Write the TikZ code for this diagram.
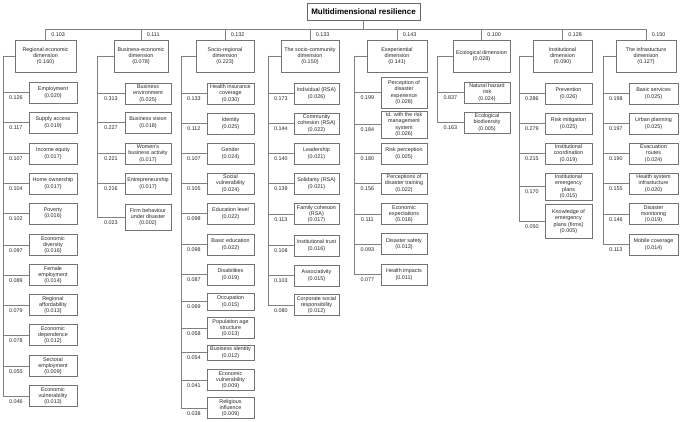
\documentclass[tikz,border=0pt]{standalone}
\usepackage{fontspec}
\setmainfont{Liberation Sans}
\begin{document}
\begin{tikzpicture}[x=1pt,y=-1pt,
  lc/.style={draw=black!50, line width=0.6pt},
  box/.style={draw=black!55, line width=0.6pt, fill=white, align=center, inner sep=1pt,
    font=\fontsize{5.4}{6.3}\selectfont, text=black!85, minimum height=21pt},
  dbox/.style={box, minimum height=32pt},
  rootbox/.style={draw=black!60, line width=0.8pt, fill=white, inner sep=1pt,
    font=\fontsize{8}{9}\selectfont\bfseries, minimum width=113pt, minimum height=17pt},
  lab/.style={font=\fontsize{5.4}{6}\selectfont, text=black!85, inner sep=0.5pt},
  w1/.style={minimum width=48pt}, w2/.style={minimum width=46pt},
  w3/.style={minimum width=47pt}, w4/.style={minimum width=45pt},
  w5/.style={minimum width=46pt}, w6/.style={minimum width=46pt},
  w7/.style={minimum width=47pt}, w8/.style={minimum width=49pt}]
\useasboundingbox (0,0) rectangle (680,422);

% root
\node[rootbox] (r) at (363.5,11.5) {Multidimensional resilience};

% dimensions
\node[dbox, minimum width=61pt] (d1) at (45.5,56) {Regional economic\\dimension\\(0.160)};
\node[dbox, minimum width=54pt] (d2) at (141,56) {Business-economic\\dimension\\(0.078)};
\node[dbox, minimum width=58pt] (d3) at (225,56) {Socio-regional\\dimension\\(0.223)};
\node[dbox, minimum width=58pt] (d4) at (310,56) {The socio-community\\dimension\\(0.150)};
\node[dbox, minimum width=60pt] (d5) at (397,56) {Exeperiential\\dimension\\(0.141)};
\node[dbox, minimum width=57pt] (d6) at (481.5,56) {Ecological dimension\\(0.028)};
\node[dbox, minimum width=59pt] (d7) at (562.5,56) {Institutional\\dimension\\(0.090)};
\node[dbox, minimum width=60pt] (d8) at (646,56) {The infrastucture\\dimension\\(0.127)};

\draw[lc] (r.south) -- ++(0,9) -| (d1.north) node[lab, pos=0.75, right=5pt] {0.103};
\draw[lc] (r.south) -- ++(0,9) -| (d2.north) node[lab, pos=0.75, right=5pt] {0.111};
\draw[lc] (r.south) -- ++(0,9) -| (d3.north) node[lab, pos=0.75, right=5pt] {0.132};
\draw[lc] (r.south) -- ++(0,9) -| (d4.north) node[lab, pos=0.75, right=5pt] {0.133};
\draw[lc] (r.south) -- ++(0,9) -| (d5.north) node[lab, pos=0.75, right=5pt] {0.143};
\draw[lc] (r.south) -- ++(0,9) -| (d6.north) node[lab, pos=0.75, right=5pt] {0.100};
\draw[lc] (r.south) -- ++(0,9) -| (d7.north) node[lab, pos=0.75, right=5pt] {0.128};
\draw[lc] (r.south) -- ++(0,9) -| (d8.north) node[lab, pos=0.75, right=5pt] {0.150};

% ---------- dimension 1
\coordinate (t1) at (3,56);
\draw[lc] (d1.west) -- (t1);
\node[box,w1] (a1) at (53,92.5) {Employment\\(0.020)};
\node[box,w1] (a2) at (53,122.5) {Supply access\\(0.019)};
\node[box,w1] (a3) at (53,153.5) {Income equity\\(0.017)};
\node[box,w1] (a4) at (53,183.5) {Home ownership\\(0.017)};
\node[box,w1] (a5) at (53,213.5) {Poverty\\(0.016)};
\node[box,w1] (a6) at (53,245) {Economic\\diversity\\(0.016)};
\node[box,w1] (a7) at (53,275) {Female\\employment\\(0.014)};
\node[box,w1] (a8) at (53,305) {Regional\\affordability\\(0.013)};
\node[box,w1] (a9) at (53,335) {Economic\\dependence\\(0.012)};
\node[box,w1] (a10) at (53,366) {Sectoral\\employment\\(0.009)};
\node[box,w1] (a11) at (53,396) {Economic\\vulnerability\\(0.013)};
\foreach \n/\v in {a1/0.126,a2/0.117,a3/0.107,a4/0.104,a5/0.102,a6/0.097,a7/0.089,a8/0.079,a9/0.078,a10/0.055,a11/0.046}
  \draw[lc] (t1) |- (\n.west) node[lab, pos=0.75, below=2.5pt] {\v};

% ---------- dimension 2
\coordinate (t2) at (97,56);
\draw[lc] (d2.west) -- (t2);
\node[box,w2] (b1) at (148,93.5) {Business\\environment\\(0.025)};
\node[box,w2] (b2) at (148,122.5) {Business vision\\(0.018)};
\node[box,w2] (b3) at (148,153.5) {Women's\\business activity\\(0.017)};
\node[box,w2] (b4) at (148,183.5) {Entrepreneurship\\(0.017)};
\node[box,w2, minimum height=26pt] (b5) at (148,217) {Firm behaviour\\under disaster\\(0.002)};
\foreach \n/\v in {b1/0.313,b2/0.227,b3/0.221,b4/0.216,b5/0.023}
  \draw[lc] (t2) |- (\n.west) node[lab, pos=0.75, below=2.5pt] {\v};

% ---------- dimension 3
\coordinate (t3) at (181,56);
\draw[lc] (d3.west) -- (t3);
\node[box,w3] (c1) at (230.5,93.5) {Health insurance\\coverage\\(0.030)};
\node[box,w3] (c2) at (230.5,123.5) {Identity\\(0.025)};
\node[box,w3] (c3) at (230.5,153.5) {Gender\\(0.024)};
\node[box,w3] (c4) at (230.5,183.5) {Social\\vulnerability\\(0.024)};
\node[box,w3] (c5) at (230.5,213.5) {Education level\\(0.022)};
\node[box,w3] (c6) at (230.5,244.5) {Basic education\\(0.022)};
\node[box,w3] (c7) at (230.5,274.5) {Disabilities\\(0.019)};
\node[box,w3, minimum height=17pt] (c8) at (230.5,301.5) {Occupation\\(0.015)};
\node[box,w3] (c9) at (230.5,328) {Population age\\structure\\(0.013)};
\node[box,w3, minimum height=15pt] (c10) at (230.5,352.5) {Business identity\\(0.012)};
\node[box,w3] (c11) at (230.5,380) {Economic\\vulnerability\\(0.009)};
\node[box,w3] (c12) at (230.5,408) {Religious\\influence\\(0.009)};
\foreach \n/\v in {c1/0.133,c2/0.112,c3/0.107,c4/0.105,c5/0.098,c6/0.098,c7/0.087,c8/0.069,c9/0.058,c10/0.054,c11/0.041,c12/0.038}
  \draw[lc] (t3) |- (\n.west) node[lab, pos=0.75, below=2.5pt] {\v};

% ---------- dimension 4
\coordinate (t4) at (268,56);
\draw[lc] (d4.west) -- (t4);
\node[box,w4] (e1) at (316.5,93.5) {Individual (RSA)\\(0.026)};
\node[box,w4] (e2) at (316.5,123.5) {Community\\cohesion (RSA)\\(0.022)};
\node[box,w4] (e3) at (316.5,153.5) {Leadership\\(0.021)};
\node[box,w4] (e4) at (316.5,183.5) {Solidarity (RSA)\\(0.021)};
\node[box,w4] (e5) at (316.5,214) {Family cohesion\\(RSA)\\(0.017)};
\node[box,w4] (e6) at (316.5,245.5) {Institutional trust\\(0.016)};
\node[box,w4] (e7) at (316.5,275.5) {Associativity\\(0.015)};
\node[box,w4] (e8) at (316.5,305) {Corporate social\\responsibility\\(0.012)};
\foreach \n/\v in {e1/0.173,e2/0.144,e3/0.140,e4/0.139,e5/0.113,e6/0.108,e7/0.103,e8/0.080}
  \draw[lc] (t4) |- (\n.west) node[lab, pos=0.75, below=2.5pt] {\v};

% ---------- dimension 5
\coordinate (t5) at (354,56);
\draw[lc] (d5.west) -- (t5);
\node[box,w5, minimum height=31pt] (f1) at (404,92.5) {Perception of\\disaster\\experience\\(0.028)};
\node[box,w5, minimum height=27pt] (f2) at (404,124.5) {Id. with the risk\\management\\system\\(0.026)};
\node[box,w5] (f3) at (404,153.5) {Risk perception\\(0.025)};
\node[box,w5] (f4) at (404,183.5) {Perceptions of\\disaster training\\(0.022)};
\node[box,w5] (f5) at (404,214) {Economic\\expectations\\(0.016)};
\node[box,w5] (f6) at (404,244) {Disaster safety\\(0.013)};
\node[box,w5] (f7) at (404,274.5) {Health impacts\\(0.011)};
\foreach \n/\v in {f1/0.199,f2/0.184,f3/0.180,f4/0.156,f5/0.111,f6/0.093,f7/0.077}
  \draw[lc] (t5) |- (\n.west) node[lab, pos=0.75, below=2.5pt] {\v};

% ---------- dimension 6
\coordinate (t6) at (437,56);
\draw[lc] (d6.west) -- (t6);
\node[box,w6] (g1) at (487,92.5) {Natural hazard\\risk\\(0.024)};
\node[box,w6] (g2) at (487,122.5) {Ecological\\biodiversity\\(0.005)};
\foreach \n/\v in {g1/0.837,g2/0.163}
  \draw[lc] (t6) |- (\n.west) node[lab, pos=0.75, below=2.5pt] {\v};

% ---------- dimension 7
\coordinate (t7) at (519,56);
\draw[lc] (d7.west) -- (t7);
\node[box,w7] (h1) at (568.5,93.5) {Prevention\\(0.026)};
\node[box,w7] (h2) at (568.5,123.5) {Risk mitigation\\(0.025)};
\node[box,w7] (h3) at (568.5,153.5) {Institutional\\coordination\\(0.019)};
\node[box,w7, minimum height=27pt] (h4) at (568.5,186.5) {Institutional\\emergency\\plans\\(0.015)};
\node[box,w7, minimum height=34pt] (h5) at (568.5,221.5) {Knowledge of\\emergency\\plans (firms)\\(0.005)};
\foreach \n/\v in {h1/0.286,h2/0.279,h3/0.215,h4/0.170,h5/0.050}
  \draw[lc] (t7) |- (\n.west) node[lab, pos=0.75, below=2.5pt] {\v};

% ---------- dimension 8
\coordinate (t8) at (603,56);
\draw[lc] (d8.west) -- (t8);
\node[box,w8] (i1) at (653.5,93.5) {Basic services\\(0.025)};
\node[box,w8] (i2) at (653.5,123.5) {Urban planning\\(0.025)};
\node[box,w8] (i3) at (653.5,153.5) {Evacuation\\routes\\(0.024)};
\node[box,w8] (i4) at (653.5,183.5) {Health system\\infrastucture\\(0.020)};
\node[box,w8] (i5) at (653.5,214) {Disaster\\monitoring\\(0.019)};
\node[box,w8] (i6) at (653.5,244.5) {Mobile coverage\\(0.014)};
\foreach \n/\v in {i1/0.198,i2/0.197,i3/0.190,i4/0.155,i5/0.146,i6/0.113}
  \draw[lc] (t8) |- (\n.west) node[lab, pos=0.75, below=2.5pt] {\v};
\end{tikzpicture}
\end{document}
